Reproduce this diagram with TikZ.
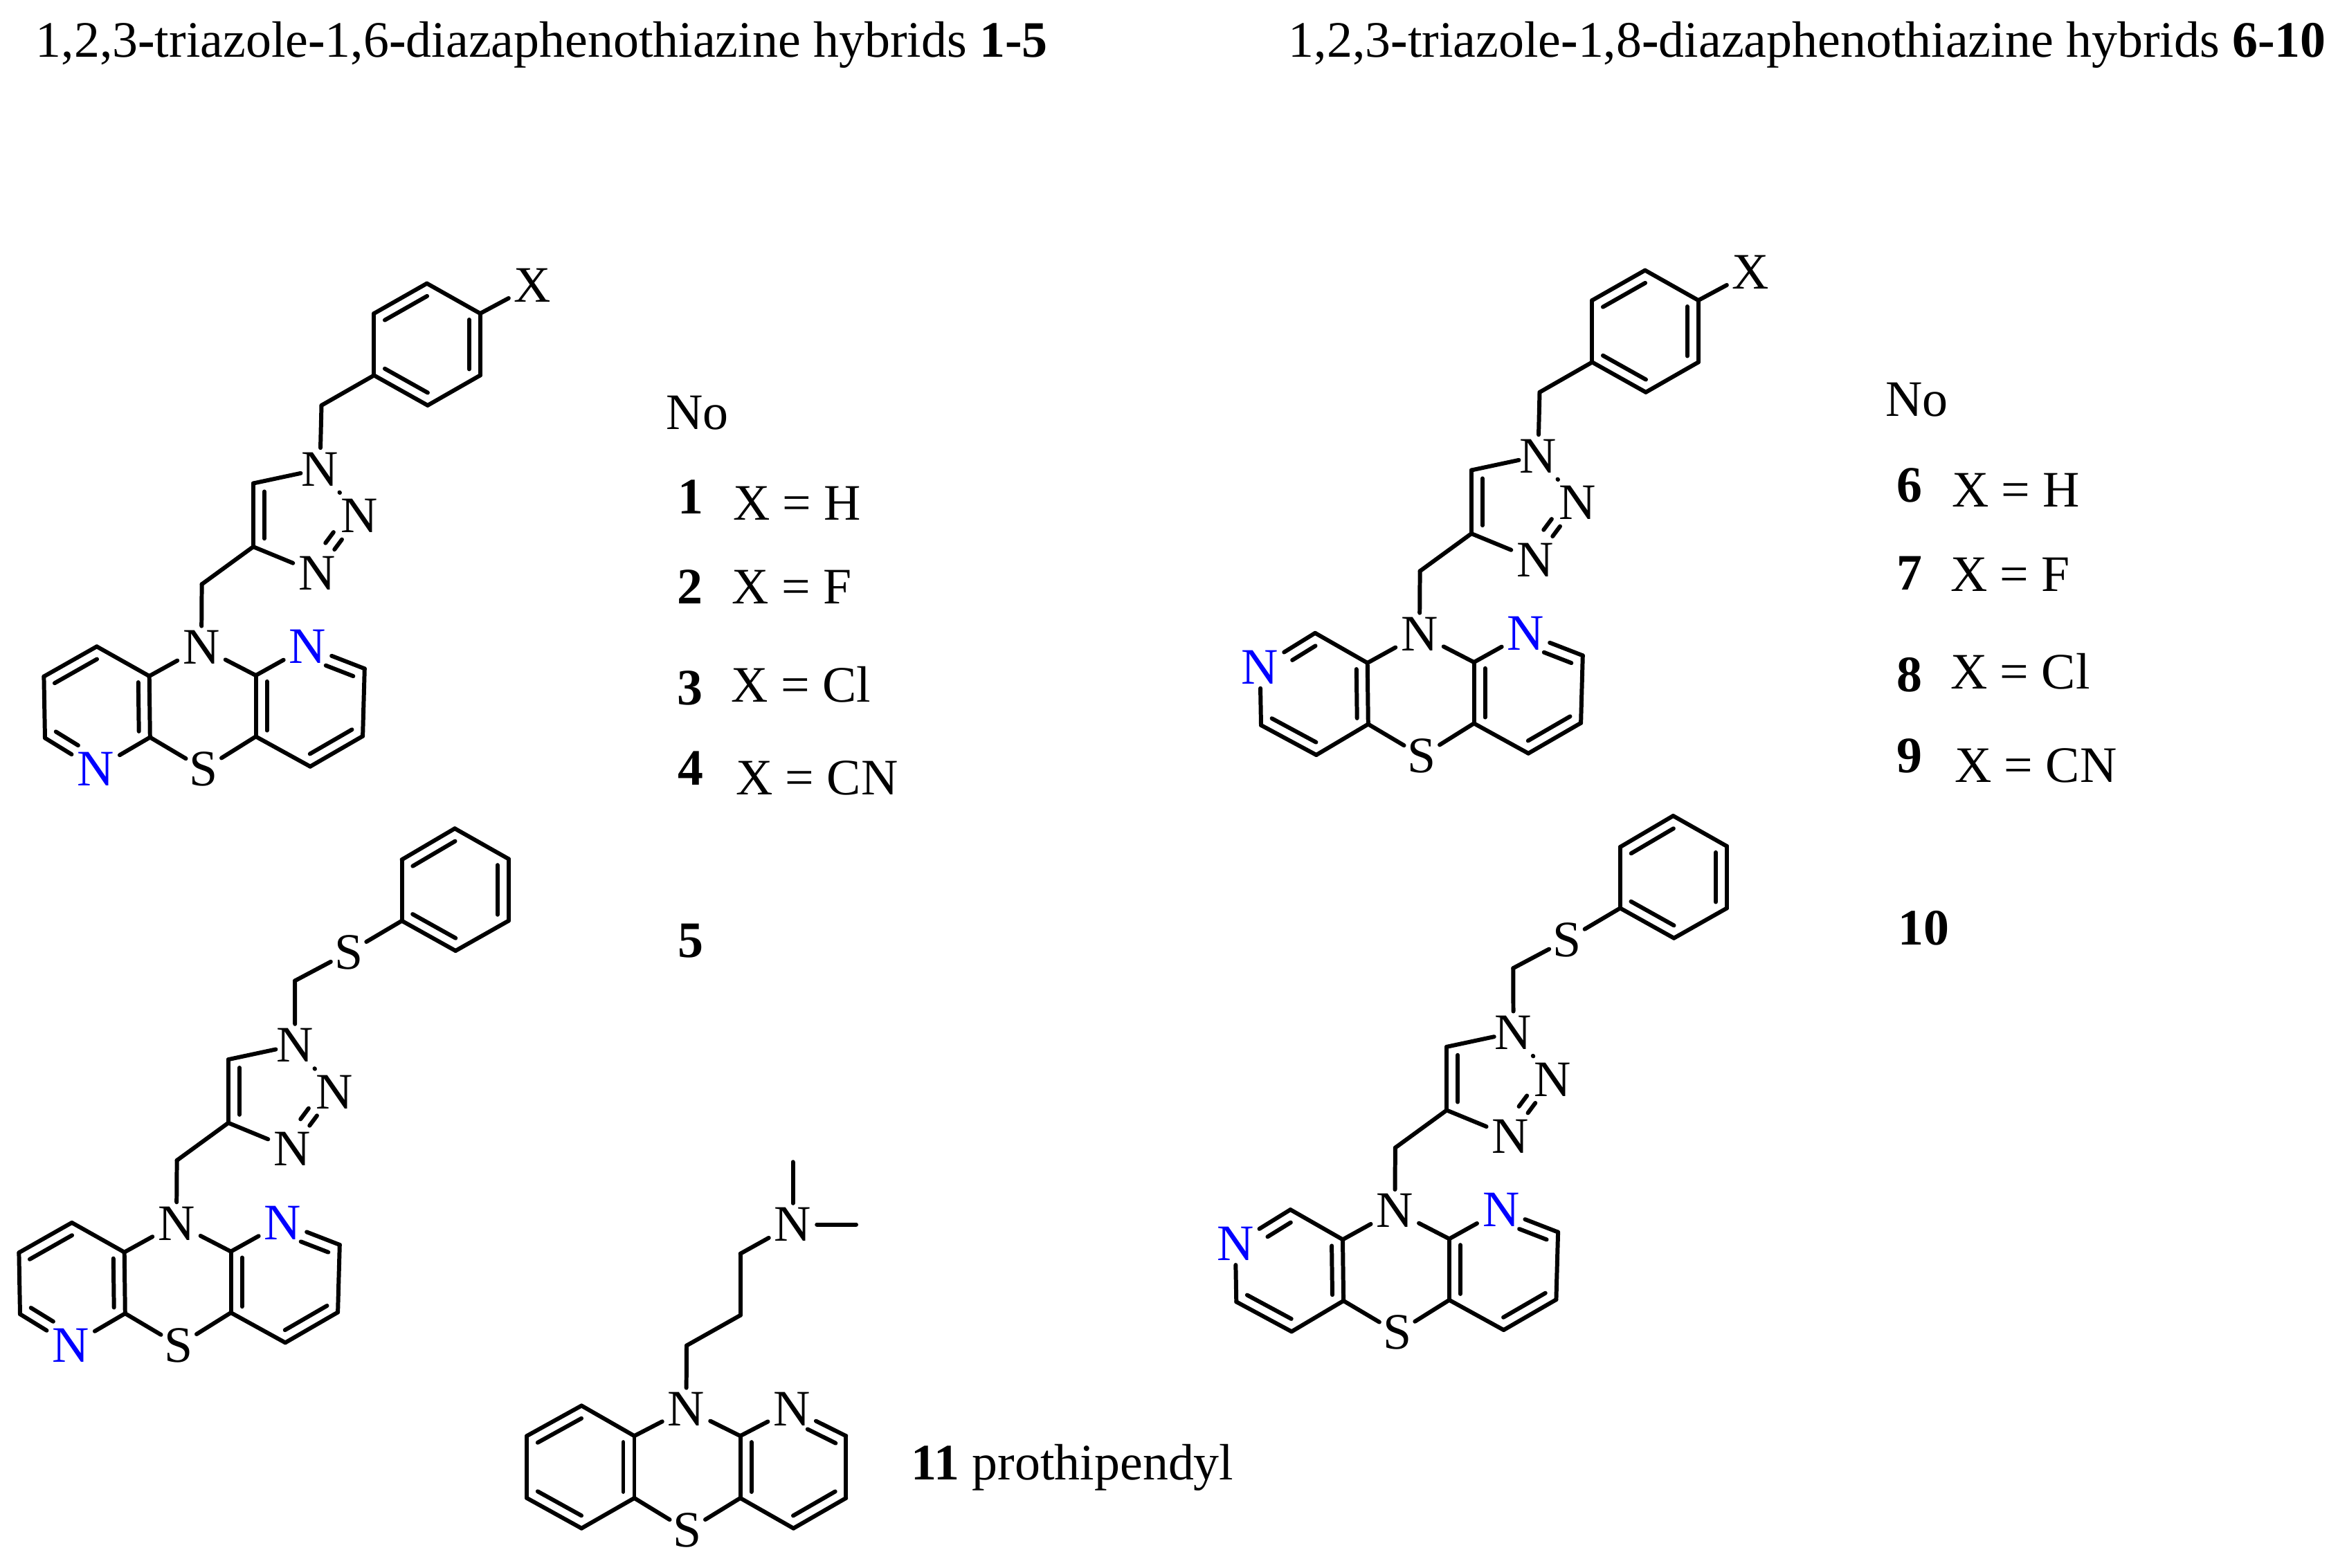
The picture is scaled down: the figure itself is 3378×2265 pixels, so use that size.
\documentclass[tikz,border=0pt]{standalone}
\usepackage{fontspec}
\setmainfont{Liberation Serif}
\usetikzlibrary{calc}
\newcommand{\labelfont}{\fontsize{21}{25}\selectfont}
\tikzset{
  bond/.style={line width=1.7pt,line cap=round,line join=round,black},
  atom/.style={rectangle,minimum width=0.68cm,minimum height=0.6cm,inner sep=0pt,font=\labelfont},
  atomB/.style={atom,text=blue},
  atomS/.style={atom,minimum width=0.5cm},
  lbl/.style={anchor=base west,inner sep=0pt,font=\labelfont},
  num/.style={anchor=base,inner sep=0pt,font=\labelfont\bfseries},
}
\newcommand{\dbl}[4]{\draw[bond] ($(#1)!#3!(#2)!0.16cm!90:(#2)$) -- ($(#2)!#4!(#1)!0.16cm!-90:(#1)$);}
\newcommand{\sgl}[2]{\draw[bond] (#1) -- (#2);}
% central thiazine + right pyridine
\newcommand{\molCore}{
  \node[atom] (N10) at (291,935.4) {N};
  \node[atomS] (S5) at (294.3,1111.5) {S};
  \coordinate (a5) at (216.8,1065.5);
  \coordinate (a6) at (215.7,977);
  \coordinate (b1) at (369.6,976);
  \node[atomB] (b2) at (444.4,934.3) {N};
  \coordinate (b3) at (526.8,966.3);
  \coordinate (b4) at (524.1,1063.8);
  \coordinate (b5) at (448.2,1107.7);
  \coordinate (b6) at (369.6,1064.4);
  \sgl{a6}{N10}\sgl{N10}{b1}\sgl{a5}{S5}\sgl{S5}{b6}\sgl{a5}{a6}
  \sgl{b1}{b2}\sgl{b2}{b3}\sgl{b3}{b4}\sgl{b4}{b5}\sgl{b5}{b6}\sgl{b6}{b1}
  \dbl{a5}{a6}{0.1}{0.1}
  \dbl{b1}{b6}{0.1}{0.1}
  \dbl{b5}{b4}{0.1}{0.1}
  \dbl{b3}{b2}{0.13}{0.39}
}
% left ring of the 1,6-series
\newcommand{\ringSix}{
  \coordinate (a1) at (139.8,934.3);
  \coordinate (a2) at (63.4,977.6);
  \coordinate (a3) at (65,1066.5);
  \node[atomB] (a4) at (138.2,1111.5) {N};
  \sgl{a6}{a1}\sgl{a1}{a2}\sgl{a2}{a3}\sgl{a3}{a4}\sgl{a4}{a5}
  \dbl{a1}{a2}{0.1}{0.1}
  \dbl{a3}{a4}{0.1}{0.46}
}
% left ring of the 1,8-series
\newcommand{\ringEight}{
  \coordinate (a1) at (140.1,933.8);
  \node[atomB] (a2) at (60.5,983) {N};
  \coordinate (a3) at (62,1067);
  \coordinate (a4) at (141.8,1110);
  \sgl{a6}{a1}\sgl{a1}{a2}\sgl{a2}{a3}\sgl{a3}{a4}\sgl{a4}{a5}
  \dbl{a1}{a2}{0.1}{0.48}
  \dbl{a3}{a4}{0.1}{0.1}
}
% CH2 link and triazole
\newcommand{\triazoleUnit}{
  \coordinate (cm) at (291.6,844.3);
  \coordinate (t4) at (365.9,790.1);
  \coordinate (t5) at (365.9,698.5);
  \node[atom] (n1) at (462.3,677.9) {N};
  \node[atom] (n2) at (519.2,745.7) {N};
  \node[atom] (n3) at (458,828) {N};
  \sgl{N10}{cm}\sgl{cm}{t4}\sgl{t4}{t5}\sgl{t4}{n3}
  \draw[bond,shorten >=-0.07cm] (t5) -- (n1);
  \draw[bond,shorten <=0.045cm,shorten >=0.045cm] (n1) -- (n2);
  \draw[bond,shorten <=0.04cm,shorten >=0.04cm] (n3) -- (n2);
  \dbl{t5}{t4}{0.13}{0.13}
  \dbl{n3}{n2}{0.41}{0.4}
}
% 4-X-benzyl
\newcommand{\benzylX}{
  \coordinate (cb) at (464.5,585.8);
  \coordinate (p1) at (540.4,542.4);
  \coordinate (p2) at (540.4,453);
  \coordinate (p3) at (616.8,409.6);
  \coordinate (p4) at (693.8,453);
  \coordinate (p5) at (693.8,542.4);
  \coordinate (p6) at (617.9,585.8);
  \node[atom] (xx) at (769.6,412.3) {X};
  \sgl{n1}{cb}\sgl{cb}{p1}\sgl{p4}{xx}
  \sgl{p1}{p2}\sgl{p2}{p3}\sgl{p3}{p4}\sgl{p4}{p5}\sgl{p5}{p6}\sgl{p6}{p1}
  \dbl{p3}{p2}{0.1}{0.1}
  \dbl{p1}{p6}{0.1}{0.1}
  \dbl{p5}{p4}{0.1}{0.1}
}
% phenylthiomethyl
\newcommand{\thioPhenyl}{
  \coordinate (cb) at (462,584.8);
  \node[atomS] (st) at (539.6,543.6) {S};
  \coordinate (p1) at (616.6,498.1);
  \coordinate (p2) at (616.6,409.7);
  \coordinate (p3) at (693.1,364.7);
  \coordinate (p4) at (770.7,408.6);
  \coordinate (p5) at (770.7,498.1);
  \coordinate (p6) at (694.2,541.4);
  \sgl{n1}{cb}\sgl{cb}{st}\sgl{st}{p1}
  \sgl{p1}{p2}\sgl{p2}{p3}\sgl{p3}{p4}\sgl{p4}{p5}\sgl{p5}{p6}\sgl{p6}{p1}
  \dbl{p3}{p2}{0.1}{0.1}
  \dbl{p1}{p6}{0.1}{0.1}
  \dbl{p5}{p4}{0.1}{0.1}
}
\begin{document}
\begin{tikzpicture}[x=0.01cm,y=-0.01cm]
\useasboundingbox (0,0) rectangle (3378,2265);
\fill[white] (0,0) rectangle (3378,2265);

% titles
\node[lbl] (title1) at (51,82) {1,2,3\textbf{-}triazole\textbf{-}1,6\textbf{-}diazaphenothiazine hybrids \textbf{1-5}};
\node[lbl] (title2) at (1861,82) {1,2,3\textbf{-}triazole\textbf{-}1,8\textbf{-}diazaphenothiazine hybrids \textbf{6-10}};

% molecules
\begin{scope}[name prefix=ma-]
  \molCore\ringSix\triazoleUnit\benzylX
\end{scope}
\begin{scope}[shift={(1760,-19)},name prefix=mb-]
  \molCore\ringEight\triazoleUnit\benzylX
\end{scope}
\begin{scope}[shift={(-36,832.6)},name prefix=mc-]
  \molCore\ringSix\triazoleUnit\thioPhenyl
\end{scope}
\begin{scope}[shift={(1724.3,814.3)},name prefix=md-]
  \molCore\ringEight\triazoleUnit\thioPhenyl
\end{scope}

% prothipendyl
\node[atom] (pN) at (991.5,2036.3) {N};
\node[atom] (pNr) at (1144.2,2036.3) {N};
\node[atomS] (pS) at (993.3,2211.8) {S};
\node[atom] (pNm) at (1145.5,1769.5) {N};
\coordinate (c1) at (840.2,2031.4);
\coordinate (c2) at (761.2,2075.1);
\coordinate (c3) at (761.2,2164.9);
\coordinate (c4) at (840.2,2208.6);
\coordinate (c5) at (916.5,2164.9);
\coordinate (c6) at (916.5,2075.1);
\coordinate (d1) at (1069.6,2075.1);
\coordinate (d3) at (1222.3,2075.1);
\coordinate (d4) at (1222.3,2164.9);
\coordinate (d5) at (1146.4,2208.6);
\coordinate (d6) at (1069.6,2164.9);
\coordinate (e1) at (992,1944.5);
\coordinate (e2) at (1069.6,1900.8);
\coordinate (e3) at (1069.6,1811.8);
\coordinate (me1) at (1145.5,1679.2);
\coordinate (me2) at (1237,1769.5);
\sgl{c1}{c2}\sgl{c2}{c3}\sgl{c3}{c4}\sgl{c4}{c5}\sgl{c5}{c6}\sgl{c6}{c1}
\sgl{c6}{pN}\sgl{pN}{d1}\sgl{c5}{pS}\sgl{pS}{d6}
\sgl{d1}{pNr}\sgl{pNr}{d3}\sgl{d3}{d4}\sgl{d4}{d5}\sgl{d5}{d6}\sgl{d6}{d1}
\sgl{pN}{e1}\sgl{e1}{e2}\sgl{e2}{e3}\sgl{e3}{pNm}\sgl{pNm}{me1}\sgl{pNm}{me2}
\dbl{c1}{c2}{0.1}{0.1}
\dbl{c3}{c4}{0.1}{0.1}
\dbl{c5}{c6}{0.1}{0.1}
\dbl{d1}{d6}{0.1}{0.1}
\dbl{d5}{d4}{0.1}{0.1}
\dbl{d3}{pNr}{0.1}{0.38}

% table, series 1-5
\node[lbl] (no1) at (961.7,620.7) {No};
\node[num] (n-1) at (998,742.4) {1};
\node[lbl] (x-1) at (1058.3,751) {X = H};
\node[num] (n-2) at (997,872.7) {2};
\node[lbl] (x-2) at (1056.7,872.7) {X = F};
\node[num] (n-3) at (997,1018) {3};
\node[lbl] (x-3) at (1056,1014) {X = Cl};
\node[num] (n-4) at (998,1134) {4};
\node[lbl] (x-4) at (1062.3,1148) {X = CN};
\node[num] (n-5) at (998,1383.6) {5};

% table, series 6-10
\node[lbl] (no2) at (2723.3,601.8) {No};
\node[num] (n-6) at (2759,725.3) {6};
\node[lbl] (x-6) at (2819.3,732.7) {X = H};
\node[num] (n-7) at (2759,852.7) {7};
\node[lbl] (x-7) at (2817.3,854.4) {X = F};
\node[num] (n-8) at (2759,999.7) {8};
\node[lbl] (x-8) at (2817.3,995) {X = Cl};
\node[num] (n-9) at (2759,1116.8) {9};
\node[lbl] (x-9) at (2823.3,1130) {X = CN};
\node[num] (n-10) at (2779.3,1365.3) {10};

% prothipendyl label
\node[lbl] (proth) at (1316,2138.4) {\textbf{11} prothipendyl};
\end{tikzpicture}
\end{document}
